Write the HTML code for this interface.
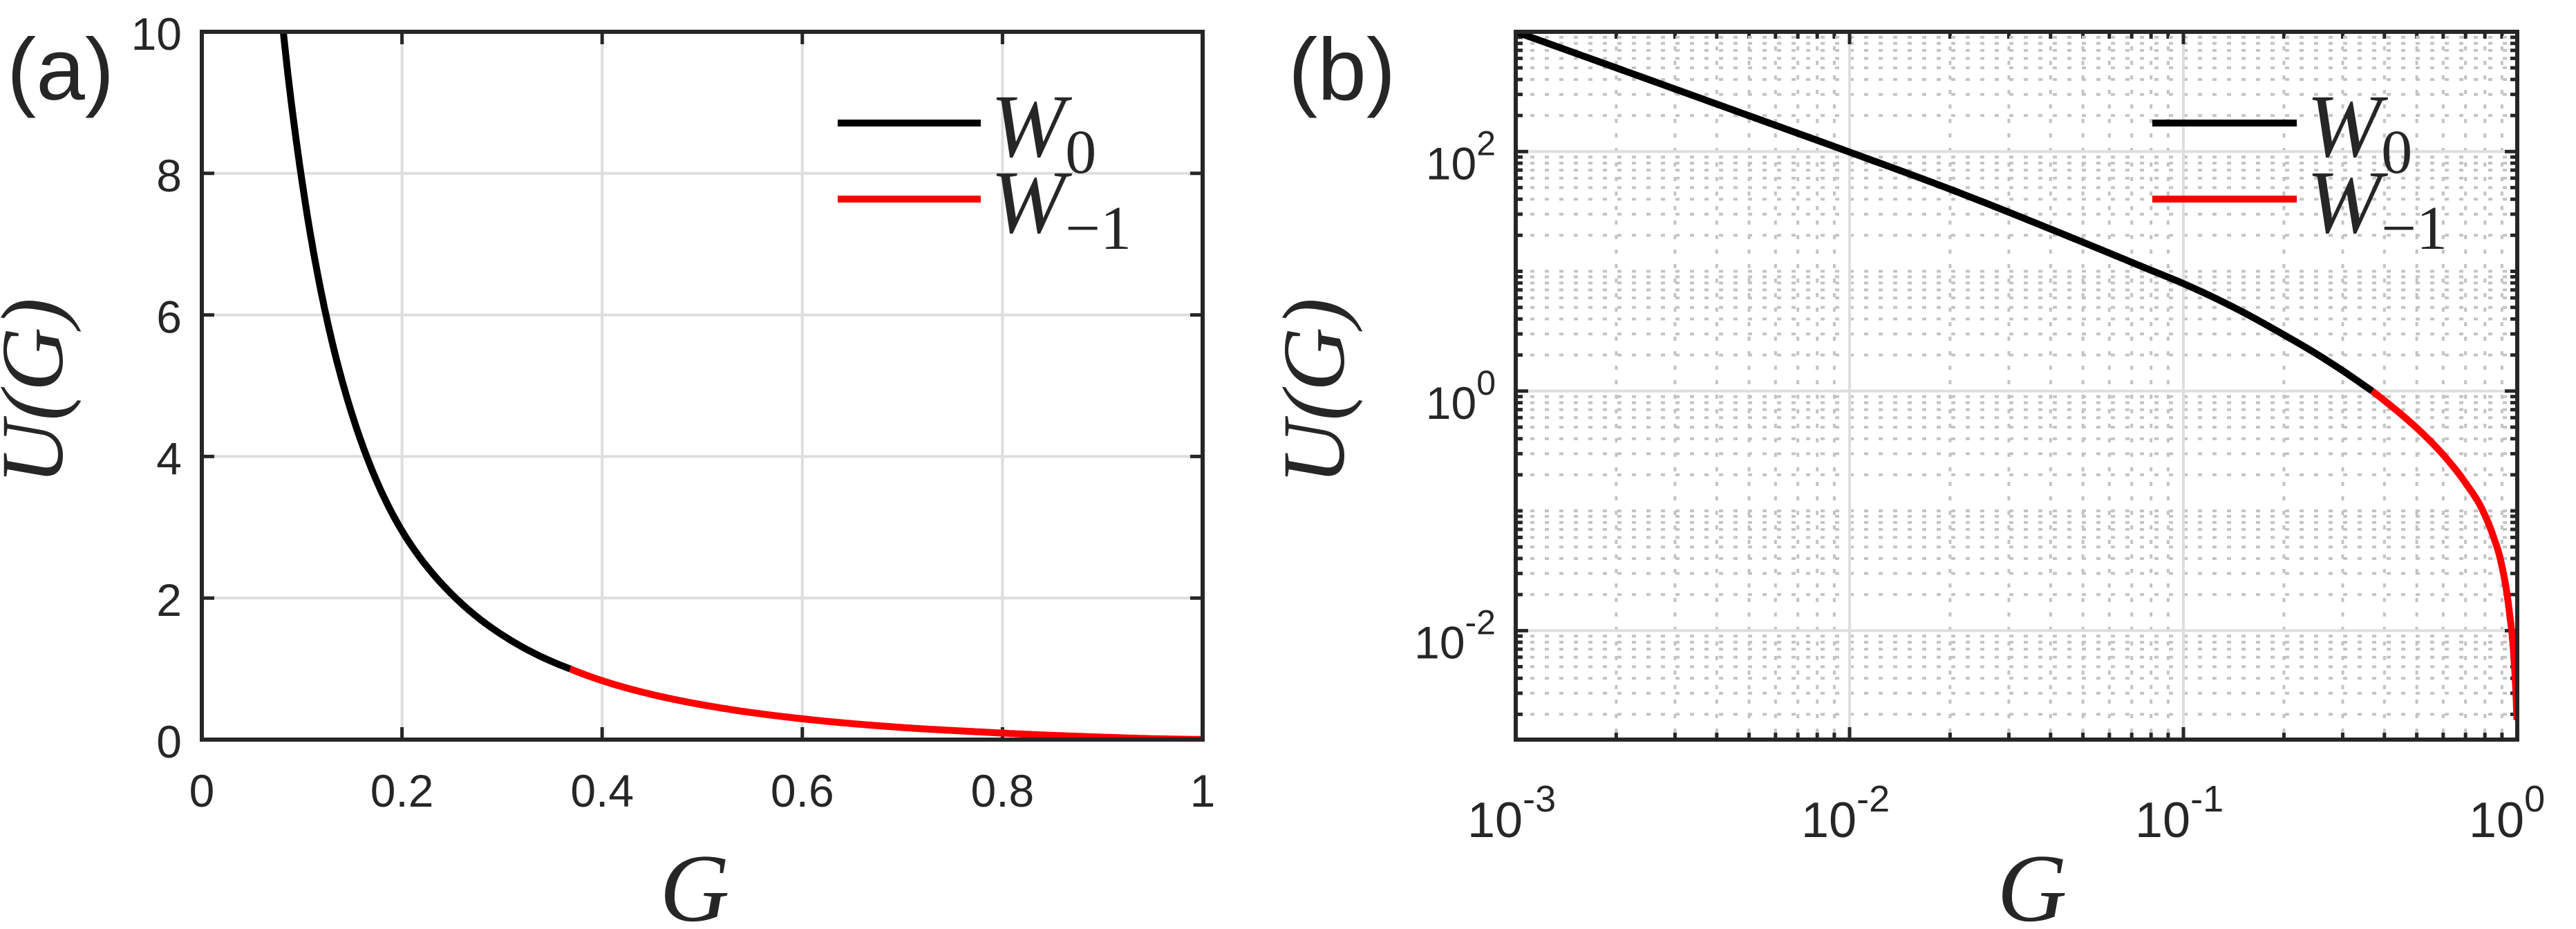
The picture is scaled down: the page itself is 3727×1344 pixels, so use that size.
<!DOCTYPE html>
<html><head><meta charset="utf-8"><style>
html,body{margin:0;padding:0;background:#fff;}
svg{display:block;}
text{fill:#262626;}
</style></head><body>
<svg id="fig" width="3727" height="1344" viewBox="0 0 3727 1344" xmlns="http://www.w3.org/2000/svg">
<defs>
<clipPath id="clipA"><rect x="292" y="46" width="1448" height="1024"/></clipPath>
<clipPath id="clipB"><rect x="2193" y="46" width="1449" height="1024"/></clipPath>
</defs>
<g id="panelA"></g>
<g id="panelB"></g>
</svg>
<script>
// ---- data ----
const gW0 = [0.001, 0.002, 0.005, 0.01, 0.02, 0.05, 0.078, 0.1, 0.15, 0.2, 0.25, 0.3, 0.368];
const uW0 = [1000, 500, 199, 99, 48.5, 17.5, 10.5, 7.9, 4.6, 2.95, 2.05, 1.48, 1.0];
const gWm1 = [0.368, 0.4, 0.45, 0.528, 0.6, 0.7, 0.789, 0.85, 0.891, 0.947, 0.976, 0.99, 0.998];
const uWm1 = [1.0, 0.833, 0.637, 0.426, 0.294, 0.171, 0.10, 0.060, 0.039, 0.0144, 0.0063, 0.0032, 0.0018];
const xTicksA = [0, 0.2, 0.4, 0.6, 0.8, 1];
const xTickLabelsA = ["0", "0.2", "0.4", "0.6", "0.8", "1"];
const yTicksA = [0, 2, 4, 6, 8, 10];
const yTickLabelsA = ["0", "2", "4", "6", "8", "10"];
const xDecadesB = [-3, -2, -1, 0];
const yDecadesB = [-2, 0, 2];
const legendLabels = ["W", "W"];
const legendSubs = ["0", "\u22121"];

const NS = "http://www.w3.org/2000/svg";
function mk(parent, tag, attrs, text) {
  const e = document.createElementNS(NS, tag);
  for (const k in attrs) e.setAttribute(k, attrs[k]);
  if (text !== undefined) e.textContent = text;
  parent.appendChild(e);
  return e;
}
// monotone-ish smoothing in log-log space, then sampled densely
function densify(gs, us) {
  const lx = gs.map(Math.log10), ly = us.map(Math.log10);
  const n = lx.length, m = [];
  const d = [];
  for (let i = 0; i < n - 1; i++) d.push((ly[i + 1] - ly[i]) / (lx[i + 1] - lx[i]));
  for (let i = 0; i < n; i++) {
    if (i === 0) m.push(d[0]);
    else if (i === n - 1) m.push(d[n - 2]);
    else m.push((d[i - 1] * (lx[i + 1] - lx[i]) + d[i] * (lx[i] - lx[i - 1])) / (lx[i + 1] - lx[i - 1]));
  }
  const out = [];
  for (let i = 0; i < n - 1; i++) {
    const h = lx[i + 1] - lx[i];
    for (let k = 0; k < 30; k++) {
      const t = k / 30;
      const h00 = 2*t*t*t - 3*t*t + 1, h10 = t*t*t - 2*t*t + t, h01 = -2*t*t*t + 3*t*t, h11 = t*t*t - t*t;
      const yv = h00*ly[i] + h10*h*m[i] + h01*ly[i+1] + h11*h*m[i+1];
      out.push([Math.pow(10, lx[i] + t*h), Math.pow(10, yv)]);
    }
  }
  out.push([gs[n - 1], us[n - 1]]);
  return out;
}
function linePath(pts) {
  return "M" + pts.map(p => p[0].toFixed(1) + "," + p[1].toFixed(1)).join(" L");
}
const dW0 = densify(gW0, uW0);
const dWm1 = densify(gWm1, uWm1);

// ---- Panel A (linear) ----
const A = {l: 292, r: 1740, t: 46, b: 1070, x0: 0, x1: 1, y0: 0, y1: 10};
const xA = v => A.l + (v - A.x0) / (A.x1 - A.x0) * (A.r - A.l);
const yA = v => A.b - (v - A.y0) / (A.y1 - A.y0) * (A.b - A.t);
const pa = document.getElementById("panelA");

xTicksA.forEach((v, i) => {
  const x = xA(v);
  if (i > 0 && i < xTicksA.length - 1) {
    const g = mk(pa, "line", {x1: x, x2: x, y1: A.t, y2: A.b, stroke: "#dedede", "stroke-width": 4});
    
    
  }
  const t1 = mk(pa, "line", {x1: x, x2: x, y1: A.b, y2: A.b - 18, stroke: "#262626", "stroke-width": 5});
  
  
  const t2 = mk(pa, "line", {x1: x, x2: x, y1: A.t, y2: A.t + 18, stroke: "#262626", "stroke-width": 5});
  
  
  const lb = mk(pa, "text", {x: x, y: 1167, "text-anchor": "middle", "font-family": "Liberation Sans, sans-serif", "font-size": 66}, xTickLabelsA[i]);
  
  
});
yTicksA.forEach((v, i) => {
  const y = yA(v);
  if (i > 0 && i < yTicksA.length - 1) {
    const g = mk(pa, "line", {x1: A.l, x2: A.r, y1: y, y2: y, stroke: "#dedede", "stroke-width": 4});
    
    
  }
  const t1 = mk(pa, "line", {x1: A.l, x2: A.l + 18, y1: y, y2: y, stroke: "#262626", "stroke-width": 5});
  
  
  const t2 = mk(pa, "line", {x1: A.r, x2: A.r - 18, y1: y, y2: y, stroke: "#262626", "stroke-width": 5});
  
  
  const lb = mk(pa, "text", {x: 263, y: y + 26, "text-anchor": "end", "font-family": "Liberation Sans, sans-serif", "font-size": 66}, yTickLabelsA[i]);
  
  
});
const cA0 = mk(pa, "path", {d: linePath(dW0.map(p => [xA(p[0]), yA(p[1])])), fill: "none", stroke: "#000", "stroke-width": 10, "stroke-linejoin": "round", "clip-path": "url(#clipA)"});


const cA1 = mk(pa, "path", {d: linePath(dWm1.map(p => [xA(p[0]), yA(p[1])])), fill: "none", stroke: "#ff0000", "stroke-width": 10, "stroke-linejoin": "round", "clip-path": "url(#clipA)"});


const boxA = mk(pa, "rect", {x: A.l, y: A.t, width: A.r - A.l, height: A.b - A.t, fill: "none", stroke: "#262626", "stroke-width": 6});



// ---- Panel B (log-log) ----
const B = {l: 2193, r: 3642, t: 46, b: 1070, lx0: -3, lx1: 0, ly0: -2.91, ly1: 3};
const xB = v => B.l + (Math.log10(v) - B.lx0) / (B.lx1 - B.lx0) * (B.r - B.l);
const yB = v => B.b - (Math.log10(v) - B.ly0) / (B.ly1 - B.ly0) * (B.b - B.t);
const pb = document.getElementById("panelB");

for (let d = -3; d < 0; d++) {
  for (let m = 2; m <= 9; m++) {
    const x = xB(m * Math.pow(10, d));
    const g = mk(pb, "line", {x1: x, x2: x, y1: B.t, y2: B.b, stroke: "#c4c4c4", "stroke-width": 4, "stroke-dasharray": "6 15"});
    
    
    const t = mk(pb, "line", {x1: x, x2: x, y1: B.b, y2: B.b - 10, stroke: "#262626", "stroke-width": 5});
    
    
    const t2 = mk(pb, "line", {x1: x, x2: x, y1: B.t, y2: B.t + 10, stroke: "#262626", "stroke-width": 5});
    
    
  }
}
for (let d = -3; d < 3; d++) {
  for (let m = 1; m <= 9; m++) {
    const v = m * Math.pow(10, d);
    const lv = Math.log10(v);
    if (lv < B.ly0 || lv > B.ly1) continue;
    const y = yB(v);
    const major = (m === 1 && d % 2 === 0);
    if (!major) {
      const g = mk(pb, "line", {x1: B.l, x2: B.r, y1: y, y2: y, stroke: "#c4c4c4", "stroke-width": 4, "stroke-dasharray": "6 15"});
      
      
      const t = mk(pb, "line", {x1: B.l, x2: B.l + 10, y1: y, y2: y, stroke: "#262626", "stroke-width": 5});
      
      
      const t2 = mk(pb, "line", {x1: B.r, x2: B.r - 10, y1: y, y2: y, stroke: "#262626", "stroke-width": 5});
      
      
    }
  }
}
xDecadesB.forEach(d => {
  const x = xB(Math.pow(10, d));
  if (d > B.lx0 && d < B.lx1) {
    const g = mk(pb, "line", {x1: x, x2: x, y1: B.t, y2: B.b, stroke: "#dedede", "stroke-width": 4});
    
    
  }
  const t = mk(pb, "line", {x1: x, x2: x, y1: B.b, y2: B.b - 18, stroke: "#262626", "stroke-width": 5});
  
  
  const t2 = mk(pb, "line", {x1: x, x2: x, y1: B.t, y2: B.t + 18, stroke: "#262626", "stroke-width": 5});
  
  
  const lb = mk(pb, "text", {x: x - 70, y: 1211, "font-family": "Liberation Sans, sans-serif", "font-size": 72});
  
  
  mk(lb, "tspan", {}, "10");
  mk(lb, "tspan", {dy: -37, "font-size": 54}, d === 0 ? "0" : "-" + Math.abs(d));
});
yDecadesB.forEach(d => {
  const y = yB(Math.pow(10, d));
  const g = mk(pb, "line", {x1: B.l, x2: B.r, y1: y, y2: y, stroke: "#dedede", "stroke-width": 4});
  
  
  const t = mk(pb, "line", {x1: B.l, x2: B.l + 18, y1: y, y2: y, stroke: "#262626", "stroke-width": 5});
  
  
  const t2 = mk(pb, "line", {x1: B.r, x2: B.r - 18, y1: y, y2: y, stroke: "#262626", "stroke-width": 5});
  
  
  const lb = mk(pb, "text", {x: 2164, y: y + 40, "text-anchor": "end", "font-family": "Liberation Sans, sans-serif", "font-size": 66});
  
  
  mk(lb, "tspan", {}, "10");
  mk(lb, "tspan", {dy: -35, "font-size": 50}, d < 0 ? "-" + Math.abs(d) : String(d));
});
const cB0 = mk(pb, "path", {d: linePath(dW0.map(p => [xB(p[0]), yB(p[1])])), fill: "none", stroke: "#000", "stroke-width": 10, "stroke-linejoin": "round", "clip-path": "url(#clipB)"});


const cB1 = mk(pb, "path", {d: linePath(dWm1.map(p => [xB(p[0]), yB(p[1])])), fill: "none", stroke: "#ff0000", "stroke-width": 10, "stroke-linejoin": "round", "clip-path": "url(#clipB)"});


const boxB = mk(pb, "rect", {x: B.l, y: B.t, width: B.r - B.l, height: B.b - B.t, fill: "none", stroke: "#262626", "stroke-width": 6});



// ---- labels, titles, legends ----
function panelDecor(parent, letter, lx, ylabX, xlabX, legX0, legX1) {
  const pl = mk(parent, "text", {x: lx, y: 144, "font-family": "Liberation Sans, sans-serif", "font-size": 127, fill: "#000"}, "(" + letter + ")");
  
  
  const yl = mk(parent, "text", {x: 0, y: 0, transform: "translate(" + (ylabX + 44) + ",566) rotate(-90)", "text-anchor": "middle", "font-family": "Liberation Serif, serif", "font-style": "italic", "font-size": 128, fill: "#000"}, "U(G)");
  
  
  const xl = mk(parent, "text", {x: xlabX, y: 1332, "text-anchor": "middle", "font-family": "Liberation Serif, serif", "font-style": "italic", "font-size": 140, fill: "#000"}, "G");
  
  
  const colors = ["#000", "#ff0000"];
  const ys = [178, 288];
  for (let i = 0; i < 2; i++) {
    const ln = mk(parent, "line", {x1: legX0, x2: legX1, y1: ys[i], y2: ys[i], stroke: colors[i], "stroke-width": 10});
    
    
    const tx = mk(parent, "text", {x: legX1 + 14, y: ys[i] + 48, "font-family": "Liberation Serif, serif", "font-size": 130, fill: "#000"});
    
    
    mk(tx, "tspan", {"font-style": "italic"}, legendLabels[i]);
    mk(tx, "tspan", {dy: 24, "font-size": 90}, legendSubs[i]);
  }
}
panelDecor(pa, "a", 10, 46, 1005, 1212, 1419);
panelDecor(pb, "b", 1864, 1900, 2940, 3114, 3323);
</script>
</body></html>
